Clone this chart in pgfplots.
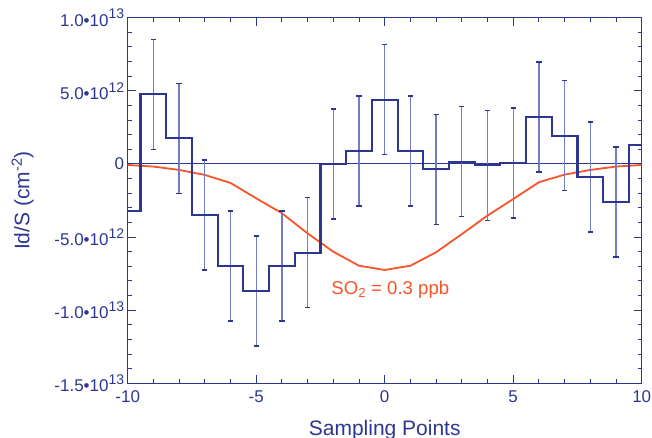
\documentclass[border=0pt]{standalone}
\usepackage{fontspec}
\setmainfont{Liberation Sans}
\usepackage{pgfplots}
\pgfplotsset{compat=1.18}
\definecolor{mainblue}{RGB}{45,55,145}
\definecolor{errblue}{RGB}{115,125,195}
\definecolor{curveorange}{RGB}{245,85,40}
\newcommand\sci[2]{#1\textbullet10\raisebox{0.42em}{\fontsize{14bp}{15bp}\selectfont #2}}
\begin{document}
\begin{tikzpicture}
\path[use as bounding box] (-127.7bp,-54.7bp) rectangle (524.3bp,383.3bp);
\begin{axis}[
  at={(0,0)}, anchor=south west,
  width=514bp, height=365.6bp, scale only axis,
  xmin=-10, xmax=10, ymin=-1.5e13, ymax=1e13,
  xtick={-10,-5,0,5,10}, xticklabels={-10,-5,0,5,10},
  minor x tick num=4,
  ytick={-1.5e13,-1e13,-5e12,0,5e12,1e13},
  yticklabels={\sci{-1.5}{13},\sci{-1.0}{13},\sci{-5.0}{12},0,\sci{5.0}{12},\sci{1.0}{13}},
  minor y tick num=4,
  scaled y ticks=false,
  axis line style={mainblue, line width=1.3bp},
  tick style={mainblue, line width=1bp},
  major tick length=8bp, minor tick length=4bp,
  tick align=inside,
  ticklabel style={font=\fontsize{17bp}{20bp}\selectfont, text=mainblue},
  xticklabel style={yshift=-4bp},
  xlabel={Sampling Points},
  ylabel={Id/S (cm\textsuperscript{-2})},
  label style={font=\fontsize{21bp}{25bp}\selectfont, text=mainblue},
  xlabel style={at={(axis description cs:0.5,0)}, anchor=north, inner sep=0pt, yshift=-37bp},
  ylabel style={at={(axis description cs:-0.2043,0.5)}, anchor=center},
]
\addplot[draw=mainblue, line width=1bp, no markers] coordinates {(-10,0) (10,0)};
\addplot[curveorange, line width=1.8bp, no markers] table {
x y
-10 -0.07e12
-9 -0.18e12
-8 -0.41e12
-7 -0.75e12
-6 -1.3e12
-5 -2.35e12
-4 -3.37e12
-3 -4.75e12
-2 -6.0e12
-1 -6.96e12
0 -7.25e12
1 -6.96e12
2 -6.04e12
3 -4.8e12
4 -3.53e12
5 -2.4e12
6 -1.25e12
7 -0.73e12
8 -0.41e12
9 -0.18e12
10 -0.07e12
};
\addplot[draw=none, no markers,
  error bars/.cd, y dir=both, y explicit,
  error bar style={draw=errblue, line width=1.3bp},
  error mark options={draw=mainblue, rotate=90, mark size=2.6bp, line width=1.2bp}]
 table[x=x, y=y, y error=e] {
x y e
-9 4.77e12 3.76e12
-8 1.76e12 3.76e12
-7 -3.49e12 3.76e12
-6 -6.98e12 3.76e12
-5 -8.69e12 3.76e12
-4 -6.98e12 3.76e12
-3 -6.06e12 3.76e12
-2 0.0 3.76e12
-1 0.89e12 3.76e12
0 4.38e12 3.76e12
1 0.89e12 3.76e12
2 -0.36e12 3.76e12
3 0.16e12 3.76e12
4 -0.09e12 3.76e12
5 0.07e12 3.76e12
6 3.21e12 3.76e12
7 1.92e12 3.76e12
8 -0.89e12 3.76e12
9 -2.6e12 3.76e12
};
\addplot[const plot mark mid, mainblue, line width=2.1bp, no markers] table {
x y
-10 -3.2e12
-9 4.77e12
-8 1.76e12
-7 -3.49e12
-6 -6.98e12
-5 -8.69e12
-4 -6.98e12
-3 -6.06e12
-2 0.0
-1 0.89e12
0 4.38e12
1 0.89e12
2 -0.36e12
3 0.16e12
4 -0.09e12
5 0.07e12
6 3.21e12
7 1.92e12
8 -0.89e12
9 -2.6e12
10 1.32e12
};
\node[text=curveorange, font=\fontsize{18.6bp}{22bp}\selectfont] at (axis cs:0.22,-8.62e12) {SO\textsubscript{2} = 0.3 ppb};
\end{axis}
\end{tikzpicture}
\end{document}
